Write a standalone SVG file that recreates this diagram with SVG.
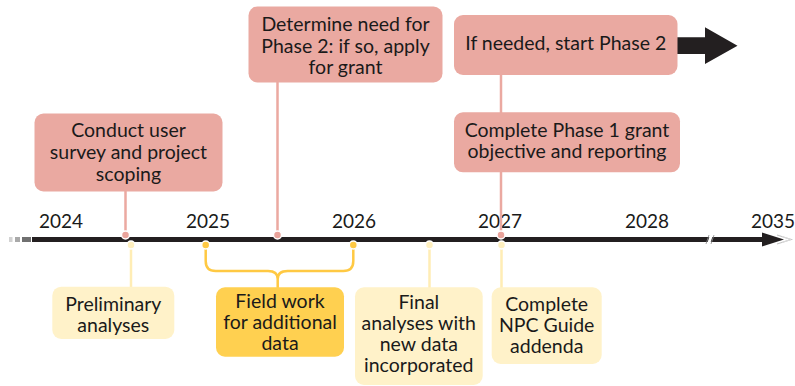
<svg xmlns="http://www.w3.org/2000/svg" width="795" height="386" viewBox="0 0 795 386">
<style>
text{font-family:Lato,"Liberation Sans",sans-serif;fill:#1a1a1a;text-anchor:middle}
.t{font-size:19.5px}
.yr{font-size:19px}
.pk{fill:#EAA9A1}
.ly{fill:#FFF2C9}
.dy{fill:#FFD050}
.pl{stroke:#EBA9A1;stroke-width:2.5;fill:none}
.yl{stroke:#FFEDB5;stroke-width:2.5;fill:none}
.dl{stroke:#FFC943;stroke-width:2.5;fill:none}
.pd{fill:#E9A39B;stroke:#fff;stroke-width:1.5}
.yd{fill:#FFF0C0;stroke:#fff;stroke-width:1.5}
.dd{fill:#FFC943;stroke:#fff;stroke-width:1.5}
</style>
<rect width="795" height="386" fill="#fff"/>
<g id="timeline">
<rect x="9" y="237" width="3.5" height="5" fill="#d2d2d2"/>
<rect x="15" y="237" width="5" height="5" fill="#a9a9a9"/>
<rect x="22" y="237" width="9" height="5" fill="#707070"/>
<rect x="32" y="237" width="735" height="5" fill="#231F20"/>
<polygon points="762,232.5 784,239.5 762,246.5" fill="#231F20"/>
<polyline points="777,235 791,239.5 777,244" fill="none" stroke="#c4c4c4" stroke-width="1.3"/>
<polyline points="782,236.5 791,239.5 782,242.5" fill="none" stroke="#dcdcdc" stroke-width="1"/>
<polygon points="707,244 710,235 713,235 710,244" fill="#fff"/>
<line x1="706" y1="244" x2="709" y2="235" stroke="#8a8a8a" stroke-width="0.8"/>
<line x1="711" y1="244" x2="714" y2="235" stroke="#8a8a8a" stroke-width="0.8"/>
<text class="yr" x="61" y="228">2024</text>
<text class="yr" x="208" y="228">2025</text>
<text class="yr" x="354" y="228">2026</text>
<text class="yr" x="500" y="228">2027</text>
<text class="yr" x="647" y="228">2028</text>
<text class="yr" x="773" y="228">2035</text>
</g>
<g id="connectors">
<line class="pl" x1="125.5" y1="191" x2="125.5" y2="235"/>
<line class="pl" x1="277.5" y1="82" x2="277.5" y2="235"/>
<line class="pl" x1="501" y1="74" x2="501" y2="113"/>
<line class="pl" x1="501" y1="171" x2="501" y2="235"/>
<line class="yl" x1="131" y1="245" x2="131" y2="288"/>
<line class="yl" x1="429.5" y1="245" x2="429.5" y2="288"/>
<line class="yl" x1="501.5" y1="245" x2="501.5" y2="288"/>
<path class="dl" d="M205.7,245 V261 Q205.7,271 215.7,271 H268 Q277.7,271 277.7,279 V288 M277.7,279 Q277.7,271 287.7,271 H343.3 Q353.3,271 353.3,261 V245"/>
<circle class="pd" cx="125.5" cy="235" r="4"/>
<circle class="pd" cx="277.5" cy="235" r="4"/>
<circle class="pd" cx="501" cy="235" r="4"/>
<circle class="yd" cx="131" cy="245" r="4"/>
<circle class="dd" cx="205.7" cy="245" r="4"/>
<circle class="dd" cx="353.3" cy="245" r="4"/>
<circle class="yd" cx="429.5" cy="245" r="4"/>
<circle class="yd" cx="501.5" cy="245" r="4"/>
<polygon points="677,37.3 705,37.3 705,27.3 737.5,45.7 705,64 705,54 677,54" fill="#231F20"/>
</g>
<g id="n1">
<rect class="pk" x="34.5" y="113.5" width="188" height="78" rx="9"/>
<text class="t" x="128.5" y="137">Conduct user</text>
<text class="t" x="128.5" y="159">survey and project</text>
<text class="t" x="128.5" y="181">scoping</text>
</g>
<g id="n2">
<rect class="pk" x="248.5" y="6.5" width="194" height="76" rx="9"/>
<text class="t" x="345.5" y="31">Determine need for</text>
<text class="t" x="345.5" y="53">Phase 2: if so, apply</text>
<text class="t" x="345.5" y="74">for grant</text>
</g>
<g id="n3">
<rect class="pk" x="454" y="15" width="223.5" height="60" rx="9"/>
<text class="t" x="565.8" y="50">If needed, start Phase 2</text>
</g>
<g id="n4">
<rect class="pk" x="454" y="112.3" width="226" height="60" rx="9"/>
<text class="t" x="567" y="136.5">Complete Phase 1 grant</text>
<text class="t" x="567" y="157.5">objective and reporting</text>
</g>
<g id="n5">
<rect class="ly" x="52.3" y="286.7" width="122" height="52.3" rx="9"/>
<text class="t" x="113.3" y="310.5">Preliminary</text>
<text class="t" x="113.3" y="331.5">analyses</text>
</g>
<g id="n6">
<rect class="dy" x="216" y="287.3" width="128" height="69.4" rx="9"/>
<text class="t" x="280" y="308">Field work</text>
<text class="t" x="280" y="329">for additional</text>
<text class="t" x="280" y="350">data</text>
</g>
<g id="n7">
<rect class="ly" x="355" y="287.3" width="127.7" height="97.7" rx="9"/>
<text class="t" x="418.8" y="309">Final</text>
<text class="t" x="418.8" y="330">analyses with</text>
<text class="t" x="418.8" y="351">new data</text>
<text class="t" x="418.8" y="372">incorporated</text>
</g>
<g id="n8">
<rect class="ly" x="491.7" y="287.3" width="110" height="76.7" rx="9"/>
<text class="t" x="546.7" y="310.5">Complete</text>
<text class="t" x="546.7" y="331.5">NPC Guide</text>
<text class="t" x="546.7" y="352.5">addenda</text>
</g>
</svg>
